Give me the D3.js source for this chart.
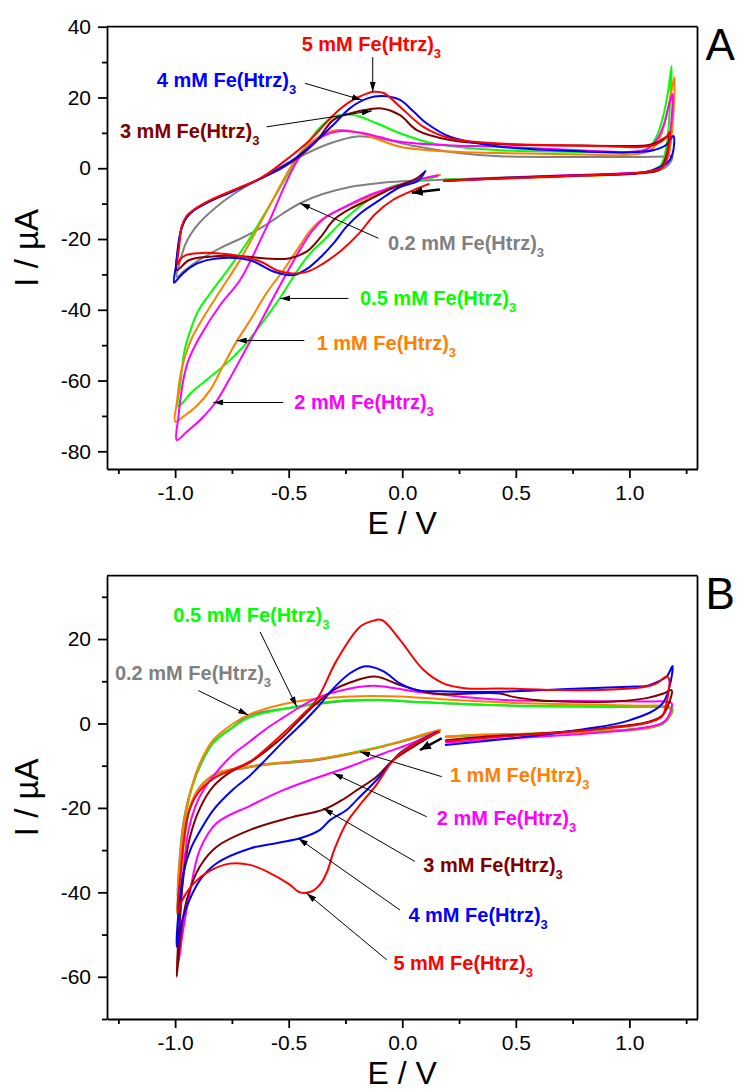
<!DOCTYPE html>
<html>
<head>
<meta charset="utf-8">
<script src="https://cdn.jsdelivr.net/npm/d3@7"></script>
<style>
  html, body { margin: 0; padding: 0; background: #fff; }
  svg { display: block; font-family: "Liberation Sans", Arial, sans-serif; }
  .axis path, .axis line { stroke: #000; stroke-width: 1.8px; }
  .axis text { font-family: "Liberation Sans", Arial, sans-serif; font-size: 21px; fill: #000; }
  .frame { stroke: #000; stroke-width: 1.8px; }
  .cv { fill: none; stroke-width: 2px; stroke-linejoin: round; }
  .lab { font-size: 20px; font-weight: bold; }
  .ptr { stroke: #000; stroke-width: 1px; }
  .scan { stroke: #000; stroke-width: 2.5px; }
</style>
</head>
<body>
<svg id="chart" width="738" height="1091"></svg>
<script>
// axes
const xDomain = [-1.3, 1.3];
const xMajor = [-1.0, -0.5, 0.0, 0.5, 1.0];
const xMinor = [-1.25, -0.75, -0.25, 0.25, 0.75, 1.25];
const aYDomain = [-85, 40];
const aYMajor = [40, 20, 0, -20, -40, -60, -80];
const aYMinor = [30, 10, -10, -30, -50, -70];
const bYDomain = [-70, 35];
const bYMajor = [20, 0, -20, -40, -60];
const bYMinor = [30, 10, -10, -30, -50, -70];

// series (order: 0.2, 0.5, 1, 2, 3, 4, 5 mM)
const concLabels = ['0.2 mM', '0.5 mM', '1 mM', '2 mM', '3 mM', '4 mM', '5 mM'];
const concColors = ['#808080', '#00ff00', '#ff8000', '#ff00ff', '#800000', '#0000ff', '#ff0000'];

// panel A: [E (V), I (uA)] along the scan, start -> -1.0 V -> 1.2 V -> back
const a02 = [[0.15,-3.3],[0.0,-3.7],[-0.1,-4.2],[-0.23,-5.3],[-0.35,-7.3],[-0.45,-9.9],[-0.53,-13],[-0.6,-16],[-0.7,-19.5],[-0.8,-22.5],[-0.9,-26.2],[-0.96,-29],[-0.993,-30.7],
  [-0.975,-25.5],[-0.955,-21.5],[-0.93,-18.5],[-0.89,-15.2],[-0.82,-11],[-0.74,-7.2],[-0.6,-1.9],[-0.45,3.3],[-0.32,7],[-0.2,9],[-0.1,8.4],[0.06,6.2],[0.25,4.3],[0.43,3.4],[0.8,3.2],[1.05,3.2],[1.15,3.3],[1.19,3.4],
  [1.17,0.8],[1.135,-0.5],[1.05,-1.3],[0.8,-1.9],[0.5,-2.5],[0.15,-3.3]];
const a05 = [[0.16,-2.3],[0.06,-3.8],[-0.05,-5.3],[-0.15,-9],[-0.22,-12.5],[-0.28,-16],[-0.34,-20],[-0.4,-23.7],[-0.45,-27.8],[-0.54,-36.8],[-0.62,-44],[-0.7,-50.4],[-0.78,-55.5],[-0.85,-59.2],[-0.93,-63.5],[-0.986,-67.4],
  [-0.975,-60],[-0.96,-52],[-0.942,-47.6],[-0.9,-40.5],[-0.846,-35.4],[-0.76,-28],[-0.685,-21.2],[-0.57,-9],[-0.45,4],[-0.36,11.7],[-0.3,14.6],[-0.22,15.1],[-0.113,12.7],[-0.01,9.9],[0.137,7],[0.43,5.1],[0.8,4.6],[1.0,4.5],[1.08,5.5],[1.12,9],[1.15,15],[1.17,21.5],[1.186,28.9],
  [1.178,17],[1.165,7],[1.14,1],[1.1,-0.6],[1.0,-1.5],[0.7,-2.2],[0.4,-2.8],[0.18,-3.2]];
const a1 = [[0.17,-1.8],[0.06,-3.5],[-0.05,-5.5],[-0.14,-8],[-0.25,-11],[-0.355,-14.5],[-0.41,-18],[-0.45,-21.8],[-0.52,-28.5],[-0.6,-35.5],[-0.67,-43],[-0.73,-49],[-0.79,-56],[-0.846,-62.7],[-0.91,-67.5],[-0.96,-70],[-1.0,-71.6],
  [-0.992,-66],[-0.978,-59],[-0.96,-54],[-0.93,-48.5],[-0.891,-43.8],[-0.8,-34.5],[-0.714,-25.9],[-0.6,-12.5],[-0.45,4.2],[-0.35,9.5],[-0.28,10.8],[-0.2,10.2],[-0.1,8],[-0.01,6.1],[0.21,4.7],[0.43,4.3],[0.8,3.9],[1.0,3.8],[1.09,5],[1.13,8],[1.16,14],[1.18,20],[1.198,25.7],
  [1.19,12],[1.17,3],[1.14,0],[1.1,-0.8],[1.0,-1.6],[0.7,-2.4],[0.4,-3],[0.18,-3.4]];
const a2 = [[0.16,-2],[0.05,-3.5],[-0.05,-5.5],[-0.14,-7.5],[-0.24,-10.5],[-0.34,-14],[-0.4,-18],[-0.45,-23],[-0.55,-34.5],[-0.62,-43],[-0.7,-52.5],[-0.76,-59.5],[-0.82,-66],[-0.88,-70.5],[-0.949,-74.5],[-0.993,-76.8],
  [-0.985,-70],[-0.972,-63],[-0.958,-58],[-0.94,-54],[-0.891,-47.6],[-0.8,-38.5],[-0.714,-31.6],[-0.6,-17],[-0.45,3.3],[-0.35,9],[-0.27,10.5],[-0.18,10],[-0.1,8.8],[-0.01,7.5],[0.2,6.5],[0.43,6.1],[0.8,5],[1.0,4.6],[1.08,5.5],[1.12,8],[1.15,12],[1.175,18],[1.19,21],
  [1.18,10],[1.16,2],[1.13,-0.2],[1.08,-1],[0.9,-1.6],[0.6,-2.3],[0.35,-3],[0.18,-3.4]];
const a3 = [[0.1,-1],[0.06,-3],[-0.05,-5.8],[-0.15,-9],[-0.23,-11.5],[-0.3,-14.5],[-0.36,-19.5],[-0.42,-23.5],[-0.5,-25.5],[-0.6,-25.5],[-0.72,-24.8],[-0.85,-25],[-0.94,-26],[-0.993,-28.8],
  [-0.985,-22],[-0.972,-17],[-0.95,-13.8],[-0.92,-12],[-0.846,-9.3],[-0.744,-6.3],[-0.626,-3],[-0.53,0],[-0.45,3.5],[-0.38,7.5],[-0.304,13.6],[-0.23,15.5],[-0.15,16.6],[-0.09,16.9],[-0.01,15],[0.064,10.8],[0.21,8],[0.43,6.8],[0.8,6.4],[1.0,6.3],[1.08,6.5],[1.13,7.5],[1.17,9],
  [1.16,3],[1.13,-0.5],[1.05,-1.4],[0.8,-2],[0.5,-2.6],[0.25,-3.3],[0.18,-3.6]];
const a4 = [[0.103,-0.6],[0.07,-3.5],[-0.01,-5.3],[-0.1,-9],[-0.18,-12.5],[-0.245,-16.5],[-0.3,-21],[-0.35,-24.5],[-0.41,-28],[-0.48,-30.2],[-0.567,-29.2],[-0.67,-26],[-0.817,-25.5],[-0.9,-26.8],[-0.949,-28.8],[-0.985,-31],[-1.005,-32.4],
  [-0.995,-27],[-0.985,-21],[-0.97,-16.5],[-0.95,-14],[-0.92,-12],[-0.846,-9.3],[-0.744,-6.5],[-0.626,-3],[-0.5,1.5],[-0.4,6.5],[-0.3,12.5],[-0.23,17],[-0.15,19.8],[-0.09,20.4],[-0.01,19.3],[0.05,16],[0.107,12.7],[0.21,8.9],[0.43,6.1],[0.7,5],[1.0,4.5],[1.1,5],[1.16,6.5],[1.194,9.1],
  [1.19,4],[1.164,1.3],[1.135,0.4],[1.08,-1],[0.8,-2],[0.5,-2.7],[0.25,-3.4],[0.18,-3.6]];
const a5 = [[0.12,-4.4],[0.05,-6.2],[-0.04,-8.9],[-0.12,-13],[-0.19,-18.4],[-0.27,-23.3],[-0.35,-27],[-0.42,-29.3],[-0.494,-29.7],[-0.553,-28.8],[-0.62,-26.5],[-0.7,-25],[-0.817,-24],[-0.9,-24],[-0.95,-24.5],[-0.975,-25.5],[-0.99,-27.2],
  [-0.982,-22],[-0.971,-16.5],[-0.95,-13.5],[-0.92,-11.8],[-0.846,-9],[-0.744,-6.2],[-0.626,-2.9],[-0.533,1.3],[-0.406,8],[-0.304,15],[-0.23,18.8],[-0.16,21],[-0.127,21.6],[-0.08,21.2],[-0.01,17.4],[0.093,11.7],[0.21,8.5],[0.43,7.0],[0.7,6.5],[0.9,6.2],[1.05,6],[1.12,6.8],[1.16,8.5],[1.179,10.3],
  [1.17,5],[1.15,0.5],[1.1,-0.8],[1.0,-1.5],[0.8,-2],[0.6,-2.5],[0.4,-3],[0.25,-3.4],[0.18,-3.6]];

// panel B
const b02 = [[0.17,-1.6],[0.0,-4.3],[-0.2,-6.9],[-0.377,-8.7],[-0.6,-9.8],[-0.67,-10.4],[-0.817,-12],[-0.891,-15.2],[-0.935,-20],[-0.96,-27],[-0.978,-34],[-0.99,-41],
  [-0.982,-33],[-0.965,-24],[-0.94,-17.5],[-0.891,-10.2],[-0.832,-4.6],[-0.744,-0.8],[-0.678,1.8],[-0.465,3.9],[-0.25,5.3],[-0.1,5.5],[0.1,5],[0.43,4.3],[0.8,4],[1.1,3.9],[1.17,3.8],[1.19,3.2],
  [1.15,0],[1.08,-1],[0.7,-2.2],[0.343,-2.8],[0.188,-3.2]];
const b05 = [[0.166,-1.5],[-0.01,-4.3],[-0.2,-6.7],[-0.377,-8.5],[-0.597,-9.6],[-0.67,-10.2],[-0.817,-11.8],[-0.891,-15],[-0.935,-20],[-0.96,-28],[-0.975,-36],[-0.99,-45.4],
  [-0.98,-34],[-0.96,-24],[-0.935,-17],[-0.891,-10],[-0.832,-4.5],[-0.744,-0.8],[-0.67,1.5],[-0.465,4.0],[-0.25,5.5],[-0.1,5.6],[0.1,5],[0.43,4.3],[0.8,4.0],[1.1,3.9],[1.17,4],[1.19,3.5],
  [1.15,0],[1.08,-1],[0.7,-2.2],[0.343,-2.7],[0.188,-3.2]];
const b1 = [[0.17,-1.5],[0.1,-2.5],[-0.01,-4.3],[-0.186,-6.7],[-0.377,-8.5],[-0.597,-9.6],[-0.67,-10.2],[-0.817,-11.8],[-0.891,-15],[-0.935,-19.7],[-0.96,-27],[-0.975,-35],[-0.99,-44.2],
  [-0.98,-33],[-0.96,-23],[-0.935,-16.5],[-0.891,-9.4],[-0.832,-3.9],[-0.744,0],[-0.67,2.2],[-0.465,5.2],[-0.23,6.4],[-0.01,6.4],[0.21,5.6],[0.43,5.0],[0.8,4.5],[1.05,4.2],[1.164,4.0],[1.186,2.8],
  [1.142,0],[1.076,-1.2],[0.7,-2.2],[0.343,-2.7],[0.188,-3.1]];
const b2 = [[0.152,-1.9],[0.05,-4.5],[-0.083,-7.1],[-0.23,-10.2],[-0.318,-11.8],[-0.524,-15.8],[-0.67,-19.5],[-0.817,-23.6],[-0.891,-29.9],[-0.935,-40],[-0.965,-49],[-0.986,-56.8],
  [-0.976,-45],[-0.962,-34],[-0.94,-25],[-0.91,-19.5],[-0.876,-15.8],[-0.81,-11],[-0.744,-7.3],[-0.67,-4.2],[-0.6,-1.3],[-0.524,1.4],[-0.45,3.9],[-0.377,6],[-0.23,8.3],[-0.113,8.9],[0.064,7.5],[0.43,5.6],[0.8,5.3],[1.076,5.2],[1.15,5.2],[1.186,4.8],
  [1.17,1.5],[1.142,0],[1.0,-1.5],[0.7,-2.8],[0.4,-3.8],[0.19,-4.5]];
const b3 = [[0.16,-2],[0.08,-4.5],[-0.04,-8.7],[-0.113,-12.6],[-0.2,-15.8],[-0.27,-18.3],[-0.347,-20.4],[-0.494,-22.3],[-0.67,-25.2],[-0.817,-29.2],[-0.891,-33.9],[-0.949,-41.8],[-0.975,-50],[-0.993,-60],
  [-0.982,-48],[-0.965,-37],[-0.935,-27],[-0.89,-20],[-0.83,-14.8],[-0.75,-11.3],[-0.67,-9.2],[-0.6,-6.5],[-0.524,-3.1],[-0.45,1],[-0.377,4.8],[-0.3,8],[-0.23,9.7],[-0.12,11.1],[-0.01,9.1],[0.137,7.1],[0.43,7.1],[0.489,6.3],[0.6,5.5],[0.709,5.2],[0.929,5.2],[1.076,6.0],[1.15,7.1],[1.186,7.9],
  [1.147,2.0],[1.091,0.5],[0.9,-1],[0.6,-2.4],[0.35,-3.2],[0.19,-4]];
const b4 = [[0.159,-1.9],[0.08,-4],[-0.01,-7.0],[-0.113,-13.4],[-0.2,-18.1],[-0.245,-20.5],[-0.318,-22.9],[-0.362,-25.2],[-0.45,-27.2],[-0.55,-28.3],[-0.67,-29.6],[-0.817,-33.1],[-0.891,-37.1],[-0.949,-43.4],[-0.975,-48],[-0.993,-52.9],
  [-0.982,-43],[-0.962,-35],[-0.93,-29.5],[-0.891,-25.5],[-0.832,-20.5],[-0.744,-15.6],[-0.67,-12.3],[-0.6,-8.5],[-0.524,-4.3],[-0.45,-0.5],[-0.377,3.6],[-0.3,8.5],[-0.23,11.9],[-0.17,13.5],[-0.142,13.5],[-0.08,12.3],[-0.01,9.5],[0.064,7.9],[0.2,7.6],[0.43,7.5],[0.7,8.1],[1.0,8.7],[1.076,8.9],[1.13,10],[1.164,11.1],[1.19,13.6],
  [1.147,4.8],[1.003,0.8],[0.783,-1.5],[0.489,-3.5],[0.343,-4.3],[0.188,-5.1]];
const b5 = [[0.166,-1.9],[0.1,-3.5],[0.034,-5.5],[-0.04,-8.7],[-0.113,-14.5],[-0.19,-19.5],[-0.245,-23.5],[-0.3,-30],[-0.33,-35],[-0.36,-38],[-0.4,-39.8],[-0.45,-40],[-0.5,-38],[-0.58,-35.5],[-0.67,-33.5],[-0.76,-33.2],[-0.85,-35],[-0.92,-38],[-0.97,-42],[-0.99,-45],
  [-0.975,-35],[-0.96,-27],[-0.94,-21],[-0.9,-16.5],[-0.83,-13],[-0.75,-11],[-0.67,-9],[-0.6,-6],[-0.524,-2.3],[-0.45,1.5],[-0.377,5.6],[-0.288,15],[-0.186,22.9],[-0.13,24.3],[-0.09,24.5],[-0.01,19.8],[0.093,12.7],[0.181,9.5],[0.284,8.3],[0.43,8.3],[0.7,7.9],[0.9,8],[1.05,8.5],[1.12,9.5],[1.164,11.1],[1.175,10.5],
  [1.16,4],[1.142,1.6],[1.076,0.1],[0.9,-1.2],[0.6,-2.5],[0.343,-3.5],[0.188,-4.2]];

// annotations: [series index, text E, text I, arrow from E, from I, to E, to I]
const aNotes = [
  [6, -0.443, 33.2, -0.130, 31.4, -0.130, 21.6],
  [5, -1.081, 22.9, -0.428, 24.0, -0.178, 19.3],
  [4, -1.243, 8.5, -0.597, 11.7, -0.134, 16.2],
  [0, -0.063, -23.1, -0.105, -19.8, -0.45, -9.9],
  [1, -0.186, -38.7, -0.237, -36.8, -0.538, -36.8],
  [2, -0.377, -51.4, -0.431, -48.7, -0.729, -48.7],
  [3, -0.475, -68.1, -0.524, -66.2, -0.832, -66.2]
];
const bNotes = [
  [1, -1.008, 24.1, -0.626, 21.7, -0.465, 4.0],
  [0, -1.265, 10.3, -0.898, 7.8, -0.678, 2.0],
  [2, 0.210, -13.8, 0.174, -12.6, -0.186, -6.7],
  [3, 0.152, -24.0, 0.108, -22.1, -0.304, -11.8],
  [4, 0.093, -35.3, 0.056, -32.7, -0.348, -20.1],
  [5, 0.027, -47.0, -0.01, -44.2, -0.458, -27.2],
  [6, -0.039, -58.4, -0.068, -56.0, -0.421, -40.2]
];
// scan direction arrows [from E, from I, to E, to I]
const aScan = [0.166, -6.0, 0.042, -6.9];
const bScan = [0.174, -3.5, 0.078, -6.3];

const svg = d3.select('#chart');
const defs = svg.append('defs');
function marker(id, len, wid) {
  defs.append('marker').attr('id', id)
    .attr('viewBox', '0 0 10 10').attr('refX', 10).attr('refY', 5)
    .attr('markerWidth', len).attr('markerHeight', wid)
    .attr('markerUnits', 'userSpaceOnUse').attr('orient', 'auto')
    .attr('preserveAspectRatio', 'none')
    .append('path').attr('d', 'M0,0 L10,5 L0,10 z').attr('fill', '#000');
}
marker('head', 10, 6);
marker('headBig', 11, 9);

function drawPanel(p) {
  const g = svg.append('g');
  const x = d3.scaleLinear().domain(xDomain).range([p.left, p.right]);
  const y = d3.scaleLinear().domain(p.yDomain).range([p.bottom, p.top]);

  const line = d3.line()
    .x(d => x(d[0]))
    .y(d => y(d[1]))
    .curve(d3.curveCatmullRom.alpha(0.5));

  p.curves.forEach((c, i) => {
    g.append('path').attr('class', 'cv')
      .attr('stroke', concColors[i])
      .attr('d', line(c));
  });

  // frame top / right
  g.append('line').attr('class', 'frame')
    .attr('x1', p.left).attr('x2', p.right).attr('y1', p.top).attr('y2', p.top);
  g.append('line').attr('class', 'frame')
    .attr('x1', p.right).attr('x2', p.right).attr('y1', p.top).attr('y2', p.bottom);

  // bottom axis
  g.append('g').attr('class', 'axis').attr('transform', `translate(0,${p.bottom})`)
    .call(d3.axisBottom(x).tickValues(xMajor).tickSize(9).tickSizeOuter(0)
      .tickPadding(7).tickFormat(d => d.toFixed(1)));
  g.append('g').attr('class', 'axis').attr('transform', `translate(0,${p.bottom})`)
    .call(d3.axisBottom(x).tickValues(xMinor).tickSize(5).tickFormat(''))
    .call(s => s.select('.domain').remove());

  // left axis
  g.append('g').attr('class', 'axis').attr('transform', `translate(${p.left},0)`)
    .call(d3.axisLeft(y).tickValues(p.yMajor).tickSize(9).tickSizeOuter(0)
      .tickPadding(7).tickFormat(d => String(d)));
  g.append('g').attr('class', 'axis').attr('transform', `translate(${p.left},0)`)
    .call(d3.axisLeft(y).tickValues(p.yMinor).tickSize(5).tickFormat(''))
    .call(s => s.select('.domain').remove());

  // axis titles
  g.append('text').attr('x', (p.left + p.right) / 2).attr('y', p.bottom + 65)
    .attr('text-anchor', 'middle').attr('font-size', 32).text('E / V');
  g.append('text')
    .attr('transform', `translate(38,${(p.top + p.bottom) / 2}) rotate(-90)`)
    .attr('text-anchor', 'middle').attr('font-size', 33).text('I / µA');

  // panel letter
  g.append('text').attr('x', p.right + 8).attr('y', p.top + 33)
    .attr('font-size', 44).text(p.letter);

  // annotations
  p.notes.forEach(n => {
    const [i, tx, ty, fx, fy, ex, ey] = n;
    g.append('line').attr('class', 'ptr')
      .attr('x1', x(fx)).attr('y1', y(fy)).attr('x2', x(ex)).attr('y2', y(ey))
      .attr('marker-end', 'url(#head)');
    const t = g.append('text').attr('class', 'lab')
      .attr('x', x(tx)).attr('y', y(ty)).attr('fill', concColors[i])
      .text(concLabels[i] + ' Fe(Htrz)');
    t.append('tspan').attr('dy', 7).attr('font-size', 13).text('3');
  });

  g.append('line').attr('class', 'scan')
    .attr('x1', x(p.scan[0])).attr('y1', y(p.scan[1]))
    .attr('x2', x(p.scan[2])).attr('y2', y(p.scan[3]))
    .attr('marker-end', 'url(#headBig)');
}

drawPanel({
  letter: 'A', left: 107, right: 697.5, top: 26.7, bottom: 469,
  yDomain: aYDomain, yMajor: aYMajor, yMinor: aYMinor,
  curves: [a02, a05, a1, a2, a3, a4, a5], notes: aNotes, scan: aScan
});
drawPanel({
  letter: 'B', left: 107, right: 697.5, top: 575.7, bottom: 1019,
  yDomain: bYDomain, yMajor: bYMajor, yMinor: bYMinor,
  curves: [b02, b05, b1, b2, b3, b4, b5], notes: bNotes, scan: bScan
});
</script>
</body>
</html>
